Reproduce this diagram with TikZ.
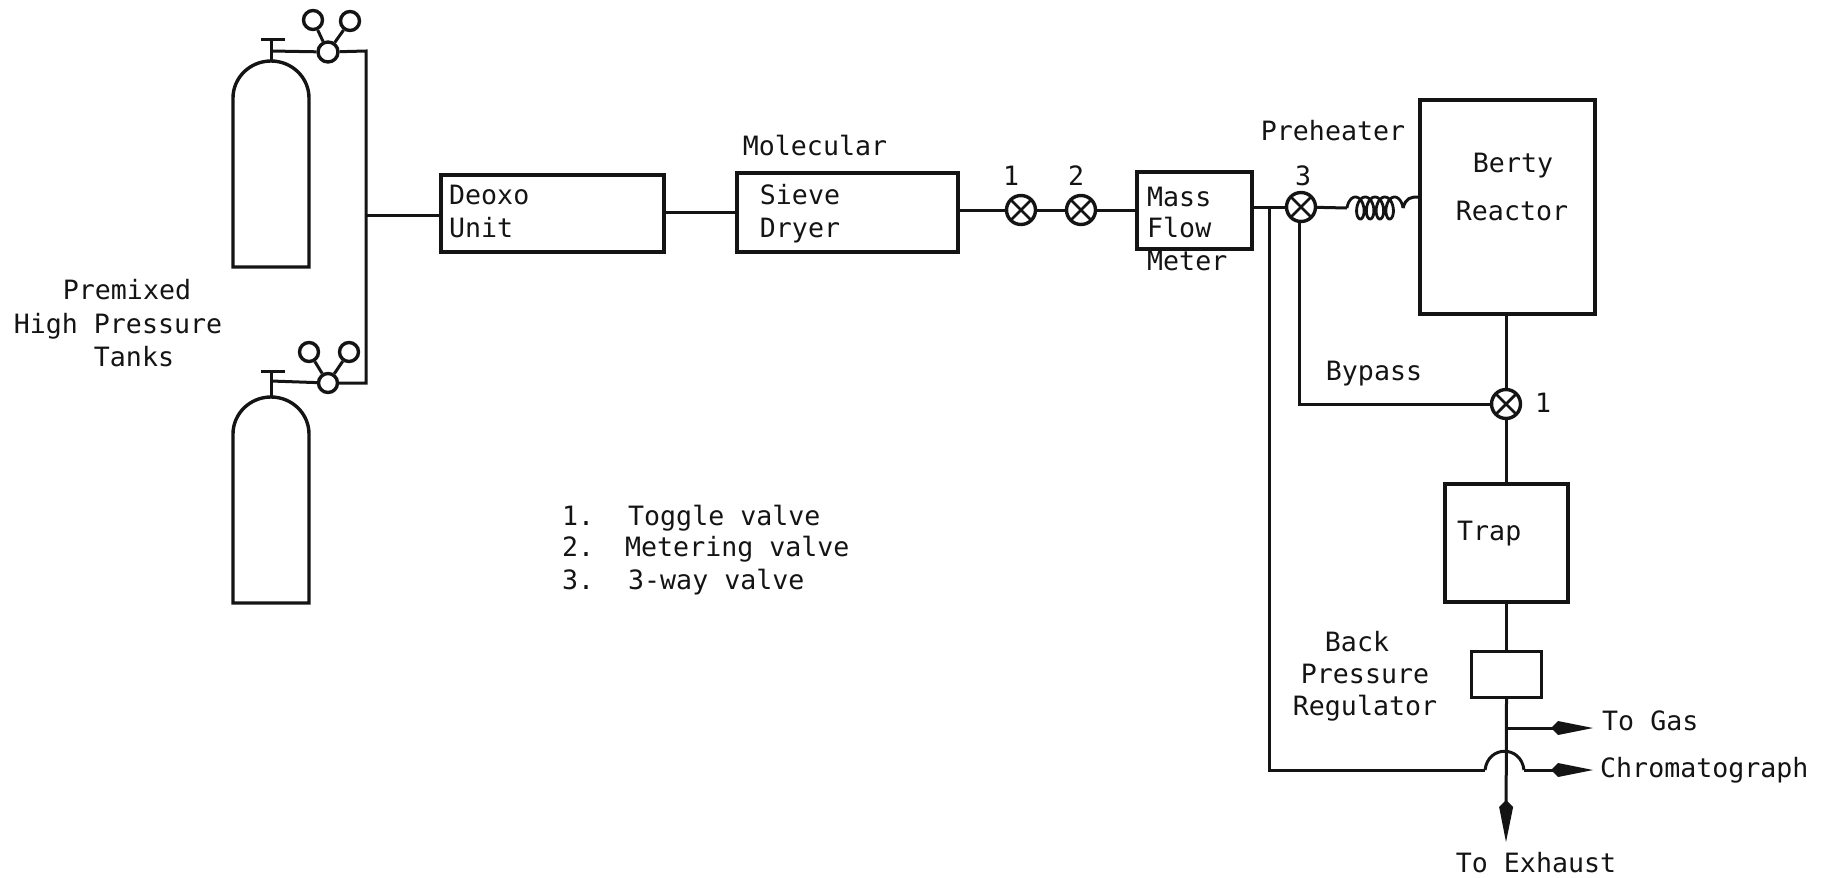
\documentclass[tikz,border=0pt]{standalone}
\usepackage{fontspec}
\setmainfont{DejaVu Sans Mono}
\usetikzlibrary{arrows.meta,calc}
\tikzset{
  pipe/.style={line width=3pt,line join=miter,black!92},
  unitbox/.style={draw=black!92,line width=3.2pt,inner sep=0pt,minimum width=#1},
  unitbox/.default=100pt,
  valve/.style={circle,draw=black!92,line width=3.4pt,minimum size=29pt,inner sep=0pt,fill=white,
    path picture={\draw[line width=2.8pt,black!92]
      (path picture bounding box.north west)--(path picture bounding box.south east)
      (path picture bounding box.north east)--(path picture bounding box.south west);}},
  ring/.style={circle,draw=black!92,line width=3.4pt,inner sep=0pt,fill=white,minimum size=#1},
  lbl/.style={inner sep=0pt,text height=0.73em,text depth=0pt,yshift=-5.5pt,font=\fontsize{26.6}{26.6}\selectfont,text=black!92},
  lblw/.style={lbl,anchor=west},
  flowtip/.style={-{Kite[length=42pt,width=14pt,inset=7pt]}},
}
\newcommand{\tanksym}[3]{% name, top y, bottom y
  \draw[pipe,line width=3.4pt] (233,#3) -- (233,#2+37) arc[start angle=180,end angle=360,x radius=38,y radius=37] -- (309,#3) -- cycle;
  \coordinate (#1neck) at (271,#2);
}
\begin{document}
\begin{tikzpicture}[x=1pt,y=-1pt]
\useasboundingbox (0,0) rectangle (1829,878);

% tanks
\tanksym{ta}{61}{267}
\tanksym{tb}{397}{603}
\coordinate (tatop) at (271,39);
\coordinate (tbtop) at (271,371);
\coordinate (tabarl) at (261,39); \coordinate (tabarr) at (285,39);
\coordinate (tbbarl) at (261,371); \coordinate (tbbarr) at (285,371);
\draw[pipe] (taneck) -- (tatop) (tabarl) -- (tabarr);
\draw[pipe] (tbneck) -- (tbtop) (tbbarl) -- (tbbarr);

% regulators
\coordinate (ma) at (366,215);
\coordinate (pa) at (366,51);
\coordinate (pb) at (366,383);
\coordinate (ja) at (271,51);
\coordinate (jb) at (271,381);
\node[ring=20pt] (ra) at (328,52) {};
\node[ring=19pt] (rb) at (328,383) {};
\node[ring=19pt] (ra1) at (313,20) {};
\node[ring=19pt] (ra2) at (350,21) {};
\node[ring=19pt] (rb1) at (309,352) {};
\node[ring=19pt] (rb2) at (349,352) {};
\draw[pipe] (ja) -- (ra) -- (pa) -- (pb) -- (rb) -- (jb);
\draw[pipe] (ra) -- (ra1) (ra) -- (ra2) (rb) -- (rb1) (rb) -- (rb2);

% units
\node[unitbox=223pt,minimum height=77pt] (deoxo) at (552.5,213.5) {};
\node[unitbox=221pt,minimum height=79pt] (sieve) at (847.5,212.5) {};
\node[unitbox=115pt,minimum height=77pt] (mfm) at (1194.5,210.5) {};
\node[unitbox=175pt,minimum height=214pt] (berty) at (1507.5,207) {};
\node[unitbox=123pt,minimum height=118pt] (trap) at (1506.5,543) {};
\node[unitbox=70pt,minimum height=46pt] (bpr) at (1506.5,674.5) {};

% main line
\draw[pipe] (ma) -- (deoxo.west |- ma);
\draw[pipe] (deoxo.east |- 0,212) -- (sieve.west |- 0,212);
\coordinate (vone) at (1021,210);
\coordinate (vtwo) at (1081,210);
\coordinate (vthree) at (1301,207);
\coordinate (vfour) at (1506,404);
\draw[pipe] (sieve.east |- vone) -- (vtwo) -- (mfm.west |- vtwo);
\draw[pipe] (mfm.east |- vthree) -- (vthree);

% preheater
\coordinate (cs) at (1347,208);
\coordinate (ce) at (1403,208);
\coordinate (bin) at (berty.west |- 0,197);
\draw[pipe] (vthree) -- (cs);
\draw[pipe,line width=2.8pt] plot[smooth,samples=160,domain=90:1710]
  ({1353+0.02716*(\x-90)-6*sin(\x)},{208+11*cos(\x)});
\draw[pipe] (ce) .. controls (1406,198) and (1410,197) .. (bin);

% bypass and return
\coordinate (tee) at (1269,208);
\coordinate (corner) at (1269,770);
\coordinate (byt) at (1299,215);
\coordinate (byc) at (1299,404);
\coordinate (jl) at (1485,770);
\coordinate (jr) at (1524,770);
\coordinate (gasj) at (1506,728);
\coordinate (gast) at (1593,728);
\coordinate (chrt) at (1593,770);
\coordinate (exh) at (1506,842);
\draw[pipe] (byt) -- (byc) -- (vfour);
\draw[pipe] (berty.south -| vfour) -- (trap.north -| vfour);
\draw[pipe] (trap.south -| bpr) -- (bpr.north);
\draw[pipe] (tee) -- (corner) -- (jl);
\draw[pipe] (jl) .. controls (1488,745) and (1521,745) .. (jr);
\draw[pipe,flowtip] (jr) -- (chrt);
\draw[pipe,flowtip] (gasj) -- (gast);
\draw[pipe,flowtip] (bpr.south) -- (exh);

% valves
\node[valve] (v1) at (vone) {};
\node[valve] (v2) at (vtwo) {};
\node[valve] (v3) at (vthree) {};
\node[valve] (v4) at (vfour) {};

% labels
\node[lbl] (l1) at (127,290) {Premixed};
\node[lbl] (l2) at (118,324) {High Pressure};
\node[lbl] (l3) at (134,357) {Tanks};
\node[lblw] (t1) at (449,195) {Deoxo};
\node[lblw] (t2) at (449,228) {Unit};
\node[lbl] (t3) at (815,146) {Molecular};
\node[lbl] (t4) at (800,195) {Sieve};
\node[lbl] (t5) at (800,228) {Dryer};
\node[lbl] (n1) at (1011,176) {1};
\node[lbl] (n2) at (1076,176) {2};
\node[lblw] (t6) at (1147,197) {Mass};
\node[lblw] (t7) at (1147,228) {Flow};
\node[lblw] (t8) at (1147,261) {Meter};
\node[lbl] (t9) at (1333,131) {Preheater};
\node[lbl] (n3) at (1303,176) {3};
\node[lbl] (t10) at (1513,163) {Berty};
\node[lbl] (t11) at (1512,211) {Reactor};
\node[lbl] (t12) at (1374,371) {Bypass};
\node[lbl] (n4) at (1543,403) {1};
\node[lblw] (t13) at (1457,531) {Trap};
\node[lbl] (t14) at (1357,642) {Back};
\node[lbl] (t15) at (1365,674) {Pressure};
\node[lbl] (t16) at (1365,706) {Regulator};
\node[lblw] (t17) at (1602,721) {To Gas};
\node[lblw] (t18) at (1600,768) {Chromatograph};
\node[lbl] (t19) at (1536,863) {To Exhaust};
\node[lblw] (k1) at (562,516) {1.};
\node[lblw] (k2) at (562,547) {2.};
\node[lblw] (k3) at (562,580) {3.};
\node[lblw] (k4) at (628,516) {Toggle valve};
\node[lblw] (k5) at (625,547) {Metering valve};
\node[lblw] (k6) at (628,580) {3-way valve};
\end{tikzpicture}
\end{document}
